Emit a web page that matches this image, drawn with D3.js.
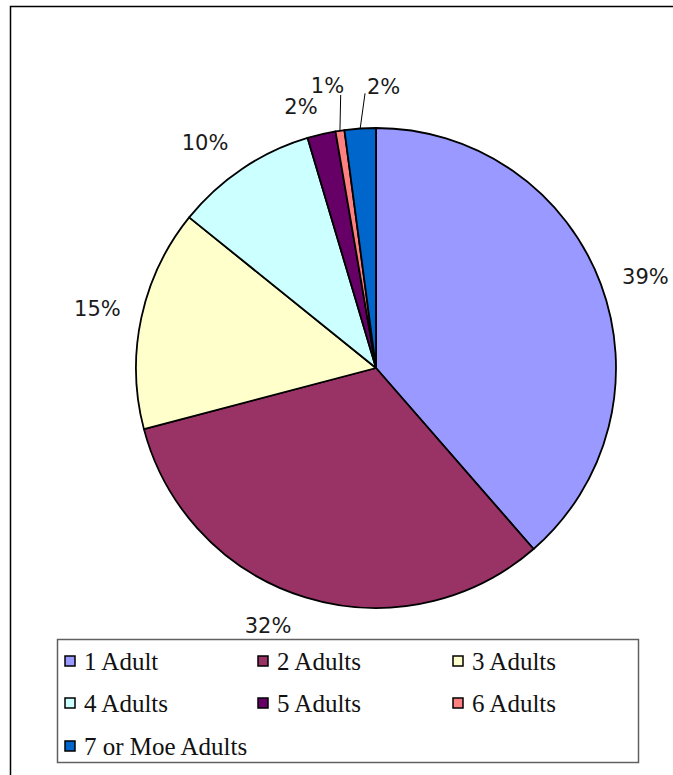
<!DOCTYPE html>
<html>
<head>
<meta charset="utf-8">
<script src="https://cdn.jsdelivr.net/npm/d3@7/dist/d3.min.js"></script>
<style>
  html, body { margin: 0; padding: 0; background: #ffffff; }
  svg { display: block; }
</style>
</head>
<body>
<svg id="chart" width="673" height="775"></svg>
<script>
// Household composition: number of adults per household (percent)
const categories = ["1 Adult", "2 Adults", "3 Adults", "4 Adults", "5 Adults", "6 Adults", "7 or Moe Adults"];
const values = [38.6, 32.3, 14.9, 9.6, 1.9, 0.6, 2.1];
const colors = ["#9999FF", "#993366", "#FFFFCC", "#CCFFFF", "#660066", "#FF8080", "#0066CC"];

// Layout
const W = 673, H = 775;
const cx = 376, cy = 368, R = 240;
const labelR = 283;
// fine adjustments of each percentage label away from its slice's mid-angle point
const labelNudge = [[4.4, 7.1], [-24.8, -13.5], [-1.8, -0.9], [-13.4, 9.8], [-10.7, 14.3], [-6, -3.2], [26.2, 1.1]];
// leader line end points, relative to the label centre (null = no leader)
const leaderEnd = [null, null, null, null, null, [13.2, 10], [-18.5, 6.6]];

const svg = d3.select("#chart");

// outer frame
svg.append("rect")
  .attr("x", 10.5).attr("y", 6.5)
  .attr("width", 720).attr("height", 820)
  .attr("fill", "none").attr("stroke", "#000").attr("stroke-width", 1.5);

const data = categories.map((c, i) => ({ cat: c, value: values[i], color: colors[i], i }));

const pie = d3.pie().value(d => d.value).sort(null);
const arcs = pie(data);
const arc = d3.arc().innerRadius(0).outerRadius(R);

const g = svg.append("g").attr("transform", `translate(${cx},${cy})`);

g.selectAll("path.slice")
  .data(arcs)
  .join("path")
  .attr("class", "slice")
  .attr("d", arc)
  .attr("fill", d => d.data.color)
  .attr("stroke", "#000")
  .attr("stroke-width", 1.8)
  .attr("stroke-linejoin", "round");

// percentage labels
const pct = d3.format(".0f");
arcs.forEach((a, i) => {
  const mid = (a.startAngle + a.endAngle) / 2;
  const lx = Math.sin(mid) * labelR + labelNudge[i][0];
  const ly = -Math.cos(mid) * labelR + labelNudge[i][1];
  if (leaderEnd[i]) {
    const ex = Math.sin(mid) * R, ey = -Math.cos(mid) * R;
    g.append("line")
      .attr("x1", ex).attr("y1", ey)
      .attr("x2", lx + leaderEnd[i][0]).attr("y2", ly + leaderEnd[i][1])
      .attr("stroke", "#000").attr("stroke-width", 1);
  }
  g.append("text")
    .attr("x", lx).attr("y", ly + 7.6)
    .attr("text-anchor", "middle")
    .attr("font-family", "'DejaVu Sans', sans-serif")
    .attr("font-size", 21)
    .attr("fill", "#1a1a1a")
    .text(pct(Math.round(a.data.value)) + "%");
});

// legend
const legend = svg.append("g");
legend.append("rect")
  .attr("x", 57.5).attr("y", 639.5)
  .attr("width", 581).attr("height", 123)
  .attr("fill", "#fff").attr("stroke", "#606060").attr("stroke-width", 1.5);

const colX = [65, 258, 453];
const rowY = [661, 703, 746];
data.forEach((d, i) => {
  const col = i % 3, row = Math.floor(i / 3);
  const x = colX[col], y = rowY[row];
  legend.append("rect")
    .attr("x", x).attr("y", y - 5)
    .attr("width", 10).attr("height", 10)
    .attr("fill", d.color).attr("stroke", "#000").attr("stroke-width", 1.5);
  legend.append("text")
    .attr("x", x + 19).attr("y", y + 8.5)
    .attr("font-family", "'Liberation Serif', serif")
    .attr("font-size", 25)
    .attr("fill", "#111")
    .text(d.cat);
});
</script>
</body>
</html>
